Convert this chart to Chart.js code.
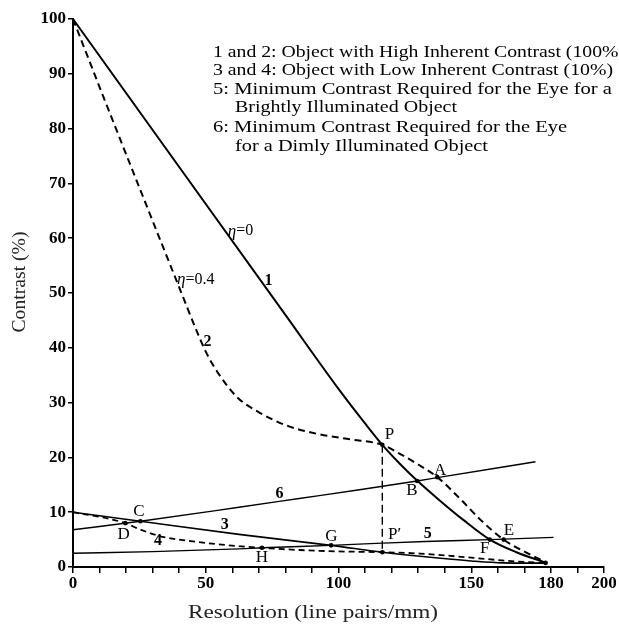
<!DOCTYPE html>
<html>
<head>
<meta charset="utf-8">
<script src="https://cdn.jsdelivr.net/npm/chart.js@4.4.0/dist/chart.umd.min.js"></script>
<style>
html,body{margin:0;padding:0;background:#fff;overflow:hidden;}
canvas{display:block;}
</style>
</head>
<body>
<canvas id="c" width="619" height="628" style="width:619px;height:628px"></canvas>
<script>
// ---------- data ----------
const xLabelValues = [0, 50, 100, 150, 180, 200];

// curve 1: eta = 0 (solid)
const curve1X = [0, 40, 80, 100, 110, 116.5, 123, 130, 138, 147, 157, 167, 178];
const curve1Y = [100, 73, 46, 32.5, 26.2, 22.3, 18.9, 15.6, 12.2, 8.6, 5.0, 2.7, 0.8];

// curve 2: eta = 0.4 (dashed)
const curve2X = [0, 10.8, 25.6, 39.2, 47, 50, 54.5, 61.8, 70.5, 80.6, 91.9, 104.4, 116.5, 123.3, 130, 137.2, 145.9, 153.5, 162.2, 171.3, 178.5];
const curve2Y = [100, 86.6, 68.5, 52.0, 42.6, 39.3, 35.5, 31.0, 28.1, 25.8, 24.3, 23.3, 22.3, 20.6, 18.7, 16.4, 12.4, 8.6, 5.0, 2.5, 0.75];

// curve 3: low contrast object, eta = 0 (solid)
const curve3X = [0, 25.4, 62.5, 97.2, 116.5, 130.7, 150, 162, 178];
const curve3Y = [10, 8.35, 5.95, 3.95, 2.7, 1.95, 1.1, 0.75, 0.7];

// curve 4: low contrast object, eta = 0.4 (dashed)
const curve4X = [0, 13.4, 19.7, 25, 32.2, 47.3, 62.5, 71.2, 85.2, 100, 116.5, 130.7, 150, 167, 178];
const curve4Y = [10, 8.8, 8.0, 6.9, 5.7, 4.55, 3.8, 3.5, 3.1, 2.85, 2.7, 2.45, 1.7, 1.0, 0.75];

// curve 5: eye threshold, bright object
const curve5X = [0, 30, 62.5, 71.2, 97.2, 116.5, 132.6, 157, 181];
const curve5Y = [2.5, 2.8, 3.3, 3.5, 3.95, 4.35, 4.65, 5.0, 5.4];

// curve 6: eye threshold, dim object
const curve6X = [0, 25.4, 62.5, 85.2, 107.9, 129.6, 137.2, 174.2];
const curve6Y = [6.8, 8.35, 10.9, 12.5, 14.1, 15.7, 16.3, 19.2];

// drop line P -> P'
const dropX = [116.5, 116.5];
const dropY = [22.3, 2.7];

// marked intersection points: P, B, A, F, E, C, D, G, H, P', end
const markX = [116.5, 129.6, 137.2, 157, 162.2, 25.4, 19.7, 97.2, 71.2, 116.5, 178];
const markY = [22.3, 15.7, 16.4, 5.0, 5.0, 8.35, 8.0, 3.95, 3.5, 2.7, 0.75];

// ---------- text ----------
const legendLines = [
  "1 and 2: Object with High Inherent Contrast (100%)",
  "3 and 4: Object with Low Inherent Contrast (10%)",
  "5: Minimum Contrast Required for the Eye for a",
  "Brightly Illuminated Object",
  "6: Minimum Contrast Required for the Eye",
  "for a Dimly Illuminated Object"
];
const xTitle = "Resolution (line pairs/mm)";
const yTitle = "Contrast (%)";

const SERIF = '"Liberation Serif", "Times New Roman", serif';

// annotation anchors (data units) — layout, not data
const annotations = [
  {parts: [["η", "italic 17px " + SERIF], ["=0", "16px " + SERIF]], x: 58.3, y: 61.3, align: "left"},
  {parts: [["η", "italic 17px " + SERIF], ["=0.4", "16px " + SERIF]], x: 39.2, y: 52.4, align: "left"},
  {parts: [["1", "bold 16px " + SERIF]], x: 73.6, y: 52.2},
  {parts: [["2", "bold 16px " + SERIF]], x: 50.7, y: 41.1},
  {parts: [["3", "bold 16px " + SERIF]], x: 57.2, y: 7.6},
  {parts: [["4", "bold 16px " + SERIF]], x: 32, y: 4.7},
  {parts: [["5", "bold 16px " + SERIF]], x: 133.6, y: 6.1},
  {parts: [["6", "bold 16px " + SERIF]], x: 77.8, y: 13.3},
  {parts: [["P", "17px " + SERIF]], x: 119.2, y: 24.1},
  {parts: [["A", "17px " + SERIF]], x: 138.3, y: 17.6},
  {parts: [["B", "17px " + SERIF]], x: 127.7, y: 13.9},
  {parts: [["C", "17px " + SERIF]], x: 24.8, y: 10.2},
  {parts: [["D", "17px " + SERIF]], x: 19.1, y: 5.9},
  {parts: [["E", "17px " + SERIF]], x: 164.2, y: 6.6},
  {parts: [["F", "17px " + SERIF]], x: 155.1, y: 3.4},
  {parts: [["G", "17px " + SERIF]], x: 97.3, y: 5.6},
  {parts: [["H", "17px " + SERIF]], x: 71.1, y: 1.7},
  {parts: [["P′", "17px " + SERIF]], x: 121.1, y: 6.0}
];

// legend block layout (pixels)
const legendX = [213, 213, 213, 235, 213, 235];
const legendY = [53, 71, 90, 108, 128, 147];
const legendW = [412, 400, 399, 222, 354, 253];

function pts(xs, ys) { return xs.map((v, i) => ({x: v, y: ys[i]})); }

function fitText(ctx, text, x, y, targetW, align) {
  const w = ctx.measureText(text).width;
  const sx = targetW / w;
  ctx.save();
  ctx.translate(x, y);
  ctx.scale(sx, 1);
  ctx.textAlign = align;
  ctx.fillText(text, 0, 0);
  ctx.restore();
}

const textPlugin = {
  id: 'texts',
  afterDraw(chart) {
    const ctx = chart.ctx;
    const xs = chart.scales.x, ys = chart.scales.y;
    ctx.save();
    ctx.fillStyle = '#000';
    ctx.textBaseline = 'middle';
    // annotations
    for (const a of annotations) {
      const px = xs.getPixelForValue(a.x), py = ys.getPixelForValue(a.y);
      let total = 0;
      for (const [t, f] of a.parts) { ctx.font = f; total += ctx.measureText(t).width; }
      let cx = a.align === 'left' ? px : px - total / 2;
      ctx.textAlign = 'left';
      for (const [t, f] of a.parts) { ctx.font = f; ctx.fillText(t, cx, py); cx += ctx.measureText(t).width; }
    }
    // legend block
    ctx.font = '17px ' + SERIF;
    legendLines.forEach((t, i) => fitText(ctx, t, legendX[i], legendY[i], legendW[i], 'left'));
    // axis titles
    ctx.fillStyle = '#222';
    ctx.font = '19px ' + SERIF;
    fitText(ctx, xTitle, 313, 613, 250, 'center');
    ctx.save();
    ctx.translate(20, 282);
    ctx.rotate(-Math.PI / 2);
    ctx.font = '18px ' + SERIF;
    fitText(ctx, yTitle, 0, 0, 101, 'center');
    ctx.restore();
    ctx.restore();
  }
};

const lineBase = {borderColor: '#000', backgroundColor: '#000', pointRadius: 0, fill: false,
  showLine: true, cubicInterpolationMode: 'monotone', clip: false};

new Chart(document.getElementById('c'), {
  type: 'scatter',
  data: {
    datasets: [
      Object.assign({label: '1', data: pts(curve1X, curve1Y), borderWidth: 2}, lineBase),
      Object.assign({label: '2', data: pts(curve2X, curve2Y), borderWidth: 2, borderDash: [7, 4.5]}, lineBase),
      Object.assign({label: '3', data: pts(curve3X, curve3Y), borderWidth: 1.6}, lineBase),
      Object.assign({label: '4', data: pts(curve4X, curve4Y), borderWidth: 1.8, borderDash: [6, 4]}, lineBase),
      Object.assign({label: '5', data: pts(curve5X, curve5Y), borderWidth: 1.4}, lineBase),
      Object.assign({label: '6', data: pts(curve6X, curve6Y), borderWidth: 1.4}, lineBase),
      Object.assign({}, lineBase, {label: 'PP′', data: pts(dropX, dropY), borderWidth: 1.4, borderDash: [8, 4], cubicInterpolationMode: 'default', tension: 0}),
      {label: 'points', data: pts(markX, markY), showLine: false, pointRadius: 2.3, pointBackgroundColor: '#000', pointBorderColor: '#000', pointBorderWidth: 0, clip: false}
    ]
  },
  options: {
    responsive: false,
    animation: false,
    events: [],
    layout: {padding: {top: 19, right: 15, left: 0, bottom: 0}},
    plugins: {legend: {display: false}, tooltip: {enabled: false}},
    scales: {
      x: {
        type: 'linear', min: 0, max: 200,
        afterFit: s => { s.height = 61; },
        ticks: {
          stepSize: 10, autoSkip: false, maxRotation: 0, minRotation: 0, padding: 0,
          color: '#000', font: {family: SERIF, size: 17, weight: 'bold'},
          callback: v => xLabelValues.includes(v) ? String(v) : ''
        },
        grid: {display: true, drawOnChartArea: false, drawTicks: true, tickLength: 6, color: '#000', lineWidth: 1.5},
        border: {display: true, color: '#000', width: 2}
      },
      y: {
        type: 'linear', min: 0, max: 100,
        afterFit: s => { s.width = 73; },
        ticks: {stepSize: 10, padding: 2, color: '#000', font: {family: SERIF, size: 17, weight: 'bold'}},
        grid: {display: true, drawOnChartArea: false, drawTicks: true, tickLength: 5, color: '#000', lineWidth: 1.5},
        border: {display: true, color: '#000', width: 2}
      }
    }
  },
  plugins: [textPlugin]
});
</script>
</body>
</html>
